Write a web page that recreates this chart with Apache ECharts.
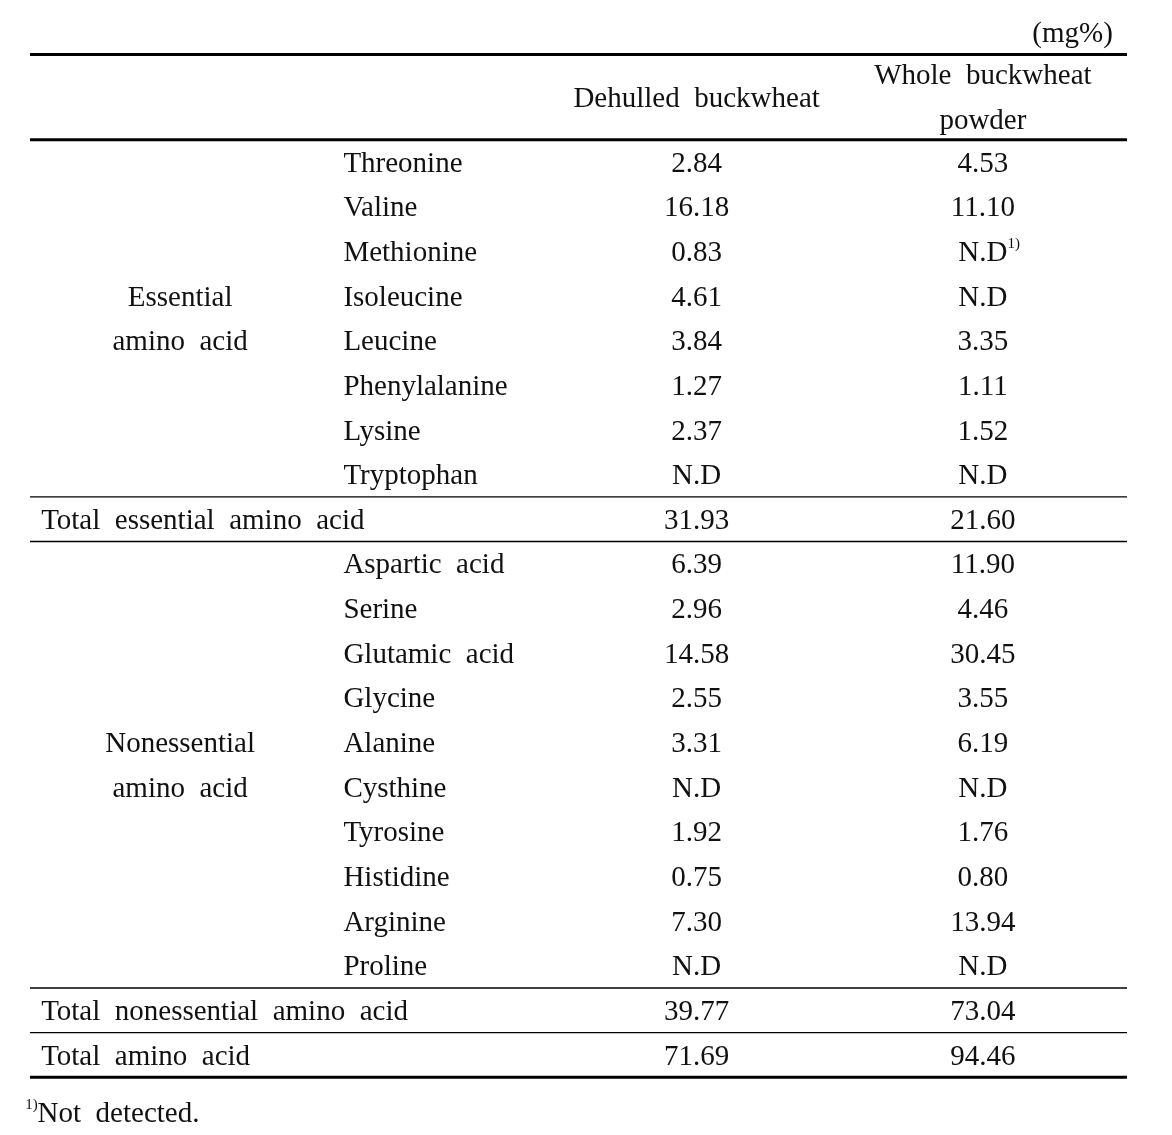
<!DOCTYPE html>
<html>
<head>
<meta charset="utf-8">
<script src="https://cdn.jsdelivr.net/npm/echarts@6/dist/echarts.min.js"></script>
<style>
html,body{margin:0;padding:0;background:#fff;}
#chart{width:1172px;height:1135px;}
</style>
</head>
<body>
<div id="chart"></div>
<script>
// ---------------- data ----------------
const unitLabel = '(mg%)';
const columnHeaders = ['Dehulled buckwheat', 'Whole buckwheat\npowder'];
const essentialGroup = 'Essential\namino acid';
const essentialNames = ['Threonine', 'Valine', 'Methionine', 'Isoleucine', 'Leucine', 'Phenylalanine', 'Lysine', 'Tryptophan'];
const essentialDehulled = [2.84, 16.18, 0.83, 4.61, 3.84, 1.27, 2.37, null];
const essentialWhole = [4.53, 11.10, null, null, 3.35, 1.11, 1.52, null];
const nonessentialGroup = 'Nonessential\namino acid';
const nonessentialNames = ['Aspartic acid', 'Serine', 'Glutamic acid', 'Glycine', 'Alanine', 'Cysthine', 'Tyrosine', 'Histidine', 'Arginine', 'Proline'];
const nonessentialDehulled = [6.39, 2.96, 14.58, 2.55, 3.31, null, 1.92, 0.75, 7.30, null];
const nonessentialWhole = [11.90, 4.46, 30.45, 3.55, 6.19, null, 1.76, 0.80, 13.94, null];
const totalLabels = ['Total essential amino acid', 'Total nonessential amino acid', 'Total amino acid'];
const totalDehulled = [31.93, 39.77, 71.69];
const totalWhole = [21.60, 73.04, 94.46];
const footnoteMark = '1)';
const footnoteCell = { row: 'Methionine', col: 'whole' };
const footnoteText = 'Not detected.';

// ---------------- structure ----------------
const columns = ['group', 'item', 'dehulled', 'whole'];
const rows = ['unit', 'head1', 'head2']
  .concat(essentialNames, [totalLabels[0]], nonessentialNames, [totalLabels[1], totalLabels[2]], ['note']);
const rowIdx = n => rows.indexOf(n);
const colIdx = n => columns.indexOf(n);
const fmt = v => (v == null ? 'N.D' : v.toFixed(2));
const spaced = s => s.replace(/ /g, '  ');

const cells = [];
function add(col, row, text, kind, span, extra) {
  cells.push(Object.assign({ col: colIdx(col), row: rowIdx(row), text: text, kind: kind, span: span || 1 }, extra || {}));
}
add('whole', 'unit', unitLabel, 'unit');
add('dehulled', 'head1', columnHeaders[0], 'headD', 2);
add('whole', 'head1', columnHeaders[1], 'headW', 2);
add('group', essentialNames[0], essentialGroup, 'group', essentialNames.length);
essentialNames.forEach((n, i) => {
  add('item', n, n, 'item');
  add('dehulled', n, fmt(essentialDehulled[i]), 'dehulled');
  const fn = (n === footnoteCell.row && footnoteCell.col === 'whole');
  add('whole', n, fmt(essentialWhole[i]), 'whole', 1, fn ? { mark: footnoteMark } : null);
});
add('group', totalLabels[0], totalLabels[0], 'total');
add('dehulled', totalLabels[0], fmt(totalDehulled[0]), 'dehulled');
add('whole', totalLabels[0], fmt(totalWhole[0]), 'whole');
add('group', nonessentialNames[0], nonessentialGroup, 'group', nonessentialNames.length);
nonessentialNames.forEach((n, i) => {
  add('item', n, n, 'item');
  add('dehulled', n, fmt(nonessentialDehulled[i]), 'dehulled');
  add('whole', n, fmt(nonessentialWhole[i]), 'whole');
});
[1, 2].forEach(k => {
  add('group', totalLabels[k], totalLabels[k], 'total');
  add('dehulled', totalLabels[k], fmt(totalDehulled[k]), 'dehulled');
  add('whole', totalLabels[k], fmt(totalWhole[k]), 'whole');
});
add('group', 'note', footnoteText, 'note', 1, { mark: footnoteMark });

const rules = [
  { after: 'unit', w: 3, dy: 4 },
  { after: 'head2', w: 3, dy: 0 },
  { after: 'Tryptophan', w: 1.4, dy: 0 },
  { after: totalLabels[0], w: 1.4, dy: 0 },
  { after: 'Proline', w: 1.4, dy: 0 },
  { after: totalLabels[1], w: 1.4, dy: 0 },
  { after: totalLabels[2], w: 3, dy: 0 }
];

// ---------------- styles ----------------
const FONT = '"Liberation Serif", "Times New Roman", serif';
const FS = 29;
const SUP = 15;
const INK = '#111';
const kindStyle = {
  unit:     { align: 'right',  dx: 123,  dy: 6 },
  headD:    { align: 'center', dx: -19,  dy: 4 },
  headW:    { align: 'center', dx: -7,   dy: 4 },
  group:    { align: 'center', dx: 13,   dy: 2 },
  total:    { align: 'left',   dx: -126, dy: 2 },
  item:     { align: 'left',   dx: -98,  dy: 2 },
  dehulled: { align: 'center', dx: -19,  dy: 2 },
  whole:    { align: 'center', dx: -7,   dy: 2 },
  note:     { align: 'left',   dx: -142, dy: 15 }
};

const chart = echarts.init(document.getElementById('chart'), null, { renderer: 'canvas' });
chart.setOption({
  backgroundColor: '#fff',
  animation: false,
  grid: { left: 30, right: 45, top: 5.75, bottom: 13.05 },
  xAxis: { type: 'category', data: columns, show: false, boundaryGap: true },
  yAxis: { type: 'category', data: rows, show: false, inverse: true, boundaryGap: true },
  series: [
    {
      type: 'custom',
      clip: false,
      silent: true,
      data: rules.map(r => [0, rowIdx(r.after)]),
      encode: { x: 0, y: 1 },
      renderItem: function (params, api) {
        const r = rules[params.dataIndex];
        const cs = params.coordSys;
        const band = api.size([0, 1])[1];
        const y = api.coord([0, api.value(1)])[1] + band / 2 + r.dy;
        return {
          type: 'line',
          shape: { x1: cs.x, y1: y, x2: cs.x + cs.width, y2: y },
          style: { stroke: '#000', lineWidth: r.w }
        };
      }
    },
    {
      type: 'custom',
      clip: false,
      silent: true,
      data: cells.map(c => [c.col, c.row]),
      encode: { x: 0, y: 1 },
      renderItem: function (params, api) {
        const c = cells[params.dataIndex];
        const st = kindStyle[c.kind];
        const p = api.coord([api.value(0), api.value(1)]);
        const band = api.size([0, 1])[1];
        const y = p[1] + (c.span - 1) * band / 2 + st.dy;
        const base = { fontFamily: FONT, fontSize: FS, fill: INK };
        let style;
        if (c.mark) {
          const markW = SUP * 0.84;
          const main = spaced(c.text);
          const text = c.kind === 'note'
            ? '{sup|' + c.mark + '}{v|' + main + '}'
            : '{v|' + main + '}{sup|' + c.mark + '}';
          style = {
            text: text,
            align: st.align,
            verticalAlign: 'middle',
            rich: {
              v: Object.assign({}, base, { lineHeight: 34, padding: c.kind === 'note' ? 0 : [0, 0, 0, markW] }),
              sup: { fontFamily: FONT, fontSize: SUP, fill: INK, lineHeight: 16, verticalAlign: 'top' }
            }
          };
        } else {
          style = Object.assign({}, base, {
            text: spaced(c.text),
            align: st.align,
            verticalAlign: 'middle',
            lineHeight: band
          });
        }
        return { type: 'text', x: p[0] + st.dx, y: y, style: style };
      }
    }
  ]
});
</script>
</body>
</html>
